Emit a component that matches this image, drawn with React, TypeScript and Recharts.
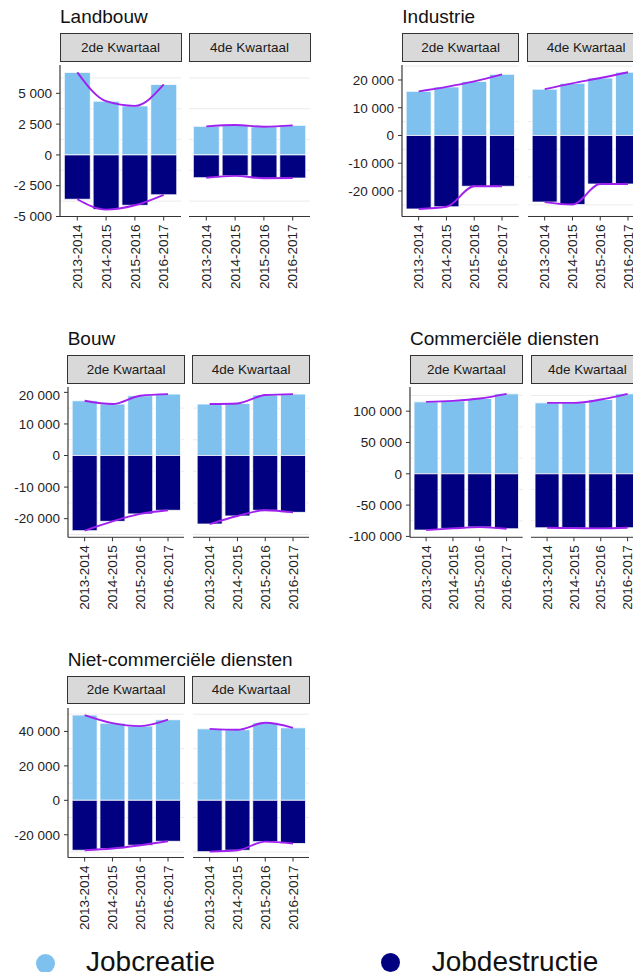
import React from 'react'
import { ComposedChart, Bar, Line, XAxis, YAxis, CartesianGrid } from 'recharts'

const periods = ['2013-2014', '2014-2015', '2015-2016', '2016-2017']
const quarters = ['2de Kwartaal', '4de Kwartaal']

const landbouwQ2Creatie = [6700, 4360, 3980, 5720]
const landbouwQ2Destructie = [-3600, -4440, -4090, -3240]
const landbouwQ4Creatie = [2320, 2430, 2290, 2400]
const landbouwQ4Destructie = [-1850, -1700, -1890, -1880]

const industrieQ2Creatie = [15900, 17500, 19500, 22050]
const industrieQ2Destructie = [-26500, -25700, -18300, -18300]
const industrieQ4Creatie = [16700, 18800, 20700, 22800]
const industrieQ4Destructie = [-24000, -24900, -17500, -17500]

const bouwQ2Creatie = [17350, 16300, 18950, 19450]
const bouwQ2Destructie = [-23800, -20850, -18500, -17350]
const bouwQ4Creatie = [16300, 16500, 19150, 19450]
const bouwQ4Destructie = [-21700, -19150, -17350, -18000]

const commercieelQ2Creatie = [114900, 116500, 120200, 127700]
const commercieelQ2Destructie = [-89900, -87200, -85100, -87800]
const commercieelQ4Creatie = [113300, 113300, 118600, 127700]
const commercieelQ4Destructie = [-86200, -86700, -87200, -86200]

const nietCommercieelQ2Creatie = [49500, 44800, 43100, 46800]
const nietCommercieelQ2Destructie = [-29000, -28000, -26100, -23800]
const nietCommercieelQ4Creatie = [41500, 41000, 45000, 42100]
const nietCommercieelQ4Destructie = [-29800, -29000, -24000, -25100]

const landbouwTicks = [-5000, -2500, 0, 2500, 5000]
const landbouwMinor = [-3750, -1250, 1250, 3750, 6250]
const industrieTicks = [-20000, -10000, 0, 10000, 20000]
const industrieMinor = [-25000, -15000, -5000, 5000, 15000, 25000]
const bouwTicks = [-20000, -10000, 0, 10000, 20000]
const bouwMinor = [-25000, -15000, -5000, 5000, 15000]
const commercieelTicks = [-100000, -50000, 0, 50000, 100000]
const commercieelMinor = [-75000, -25000, 25000, 75000, 125000]
const nietCommercieelTicks = [-20000, 0, 20000, 40000]
const nietCommercieelMinor = [-30000, -10000, 10000, 30000, 50000]

const CREATIE = '#7EC0EE'
const DESTRUCTIE = '#000080'
const TREND = '#A020F0'
const FONT = '"Liberation Sans", Arial, sans-serif'

type Row = { period: string; creatie: number; destructie: number }

function toRows(creatie: number[], destructie: number[]): Row[] {
  return periods.map((p, i) => ({ period: p, creatie: creatie[i], destructie: destructie[i] }))
}

function formatThousands(n: number): string {
  const s = Math.abs(n).toString().replace(/\B(?=(\d{3})+(?!\d))/g, ' ')
  return n < 0 ? '-' + s : s
}

function PeriodTick(props: any) {
  const { x, y, payload } = props
  return (
    <g transform={`translate(${x},${y})`}>
      <text
        x={-2}
        y={0}
        dy="0.35em"
        textAnchor="end"
        transform="rotate(-90)"
        fontSize={13.5}
        fontFamily={FONT}
        fill="#222"
      >
        {payload.value}
      </text>
    </g>
  )
}

const YW = 70
const XH = 80

function Panel(props: {
  data: Row[]
  domain: [number, number]
  ticks: number[]
  minor: number[]
  showAxis: boolean
  left: number
  top: number
  width: number
  height: number
}) {
  const { data, domain, ticks, minor, showAxis, left, top, width, height } = props
  const yw = showAxis ? YW : 0
  const pad = (0.1 * width) / 4.2
  return (
    <div style={{ position: 'absolute', left: left - yw, top }}>
      <ComposedChart
        width={width + yw}
        height={height + XH}
        data={data}
        stackOffset="sign"
        barCategoryGap="5%"
        margin={{ top: 0, right: 0, bottom: 0, left: 0 }}
      >
        <CartesianGrid
          vertical={false}
          horizontalValues={[...ticks, ...minor]}
          stroke="#ebebeb"
          strokeWidth={1}
        />
        <XAxis
          dataKey="period"
          height={XH}
          interval={0}
          padding={{ left: pad, right: pad }}
          tickSize={4}
          tickMargin={2}
          tick={<PeriodTick />}
          axisLine={{ stroke: '#333' }}
          tickLine={{ stroke: '#333' }}
        />
        <YAxis
          type="number"
          domain={domain}
          ticks={ticks}
          allowDataOverflow
          hide={!showAxis}
          width={yw}
          tickSize={4}
          tickMargin={4}
          tickFormatter={formatThousands}
          tick={{ fontSize: 13.5, fill: '#222', fontFamily: FONT }}
          axisLine={{ stroke: '#111' }}
          tickLine={{ stroke: '#333' }}
        />
        <Bar dataKey="creatie" stackId="s" fill={CREATIE} stroke="#fff" strokeWidth={0.8} isAnimationActive={false} />
        <Bar dataKey="destructie" stackId="s" fill={DESTRUCTIE} stroke="#fff" strokeWidth={0.8} isAnimationActive={false} />
        <Line type="monotone" dataKey="creatie" stroke={TREND} strokeWidth={1.9} dot={false} isAnimationActive={false} />
        <Line type="monotone" dataKey="destructie" stroke={TREND} strokeWidth={1.9} dot={false} isAnimationActive={false} />
      </ComposedChart>
    </div>
  )
}

type Sector = {
  name: string
  q2: Row[]
  q4: Row[]
  domain: [number, number]
  ticks: number[]
  minor: number[]
  axisX: number
  panelW: number
  gap: number
  titleBase: number
  stripTop: number
  stripBottom: number
  panelTop: number
  panelBottom: number
}

const sectors: Sector[] = [
  {
    name: 'Landbouw',
    q2: toRows(landbouwQ2Creatie, landbouwQ2Destructie),
    q4: toRows(landbouwQ4Creatie, landbouwQ4Destructie),
    domain: [-5000, 7300],
    ticks: landbouwTicks,
    minor: landbouwMinor,
    axisX: 60,
    panelW: 121,
    gap: 8,
    titleBase: 23.3,
    stripTop: 33,
    stripBottom: 62,
    panelTop: 65,
    panelBottom: 216.5,
  },
  {
    name: 'Industrie',
    q2: toRows(industrieQ2Creatie, industrieQ2Destructie),
    q4: toRows(industrieQ4Creatie, industrieQ4Destructie),
    domain: [-29200, 25400],
    ticks: industrieTicks,
    minor: industrieMinor,
    axisX: 402.3,
    panelW: 116.7,
    gap: 8.7,
    titleBase: 23.3,
    stripTop: 33,
    stripBottom: 62,
    panelTop: 65,
    panelBottom: 216.5,
  },
  {
    name: 'Bouw',
    q2: toRows(bouwQ2Creatie, bouwQ2Destructie),
    q4: toRows(bouwQ4Creatie, bouwQ4Destructie),
    domain: [-25900, 21700],
    ticks: bouwTicks,
    minor: bouwMinor,
    axisX: 67.7,
    panelW: 116.7,
    gap: 8.3,
    titleBase: 345,
    stripTop: 355,
    stripBottom: 383.5,
    panelTop: 387,
    panelBottom: 537.3,
  },
  {
    name: 'Commerciële diensten',
    q2: toRows(commercieelQ2Creatie, commercieelQ2Destructie),
    q4: toRows(commercieelQ4Creatie, commercieelQ4Destructie),
    domain: [-101400, 138600],
    ticks: commercieelTicks,
    minor: commercieelMinor,
    axisX: 410,
    panelW: 112.7,
    gap: 8.3,
    titleBase: 345,
    stripTop: 355,
    stripBottom: 383.5,
    panelTop: 387,
    panelBottom: 537.3,
  },
  {
    name: 'Niet-commerciële diensten',
    q2: toRows(nietCommercieelQ2Creatie, nietCommercieelQ2Destructie),
    q4: toRows(nietCommercieelQ4Creatie, nietCommercieelQ4Destructie),
    domain: [-33200, 53600],
    ticks: nietCommercieelTicks,
    minor: nietCommercieelMinor,
    axisX: 67.7,
    panelW: 116.7,
    gap: 8.3,
    titleBase: 666,
    stripTop: 675.7,
    stripBottom: 704,
    panelTop: 708,
    panelBottom: 857.5,
  },
]

const TITLE_FS = 19

function Strip({ left, top, width, height, label }: { left: number; top: number; width: number; height: number; label: string }) {
  return (
    <div
      style={{
        position: 'absolute',
        left,
        top,
        width,
        height,
        boxSizing: 'border-box',
        border: '1px solid #333',
        background: '#d9d9d9',
        display: 'flex',
        alignItems: 'center',
        justifyContent: 'center',
        fontSize: 13.5,
        color: '#1a1a1a',
      }}
    >
      {label}
    </div>
  )
}

function SectorBlock({ s }: { s: Sector }) {
  const p2x = s.axisX + s.panelW + s.gap
  const h = s.panelBottom - s.panelTop
  return (
    <>
      <div
        style={{
          position: 'absolute',
          left: s.axisX,
          top: s.titleBase - 0.8465 * TITLE_FS,
          fontSize: TITLE_FS,
          lineHeight: 1,
          color: '#111',
          whiteSpace: 'nowrap',
        }}
      >
        {s.name}
      </div>
      <Strip left={s.axisX - 0.5} top={s.stripTop} width={s.panelW + 1} height={s.stripBottom - s.stripTop} label={quarters[0]} />
      <Strip left={p2x - 0.5} top={s.stripTop} width={s.panelW + 1} height={s.stripBottom - s.stripTop} label={quarters[1]} />
      <Panel data={s.q2} domain={s.domain} ticks={s.ticks} minor={s.minor} showAxis left={s.axisX} top={s.panelTop} width={s.panelW} height={h} />
      <Panel data={s.q4} domain={s.domain} ticks={s.ticks} minor={s.minor} showAxis={false} left={p2x} top={s.panelTop} width={s.panelW} height={h} />
    </>
  )
}

const legendItems = [
  { label: 'Jobcreatie', color: CREATIE, cx: 45.5, cy: 963, textX: 86 },
  { label: 'Jobdestructie', color: DESTRUCTIE, cx: 390, cy: 962.3, textX: 431.7 },
]

export default function App() {
  return (
    <div
      style={{
        position: 'relative',
        width: 641,
        height: 980,
        margin: -8,
        overflow: 'hidden',
        background: '#fff',
        fontFamily: FONT,
      }}
    >
      {sectors.map((s) => (
        <SectorBlock key={s.name} s={s} />
      ))}
      {legendItems.map((it) => (
        <React.Fragment key={it.label}>
          <div
            style={{
              position: 'absolute',
              left: it.cx - 9.5,
              top: it.cy - 9.5,
              width: 19,
              height: 19,
              borderRadius: '50%',
              background: it.color,
            }}
          />
          <div
            style={{
              position: 'absolute',
              left: it.textX,
              top: 972 - 0.8465 * 28,
              fontSize: 28,
              lineHeight: 1,
              color: '#111',
              whiteSpace: 'nowrap',
            }}
          >
            {it.label}
          </div>
        </React.Fragment>
      ))}
    </div>
  )
}
